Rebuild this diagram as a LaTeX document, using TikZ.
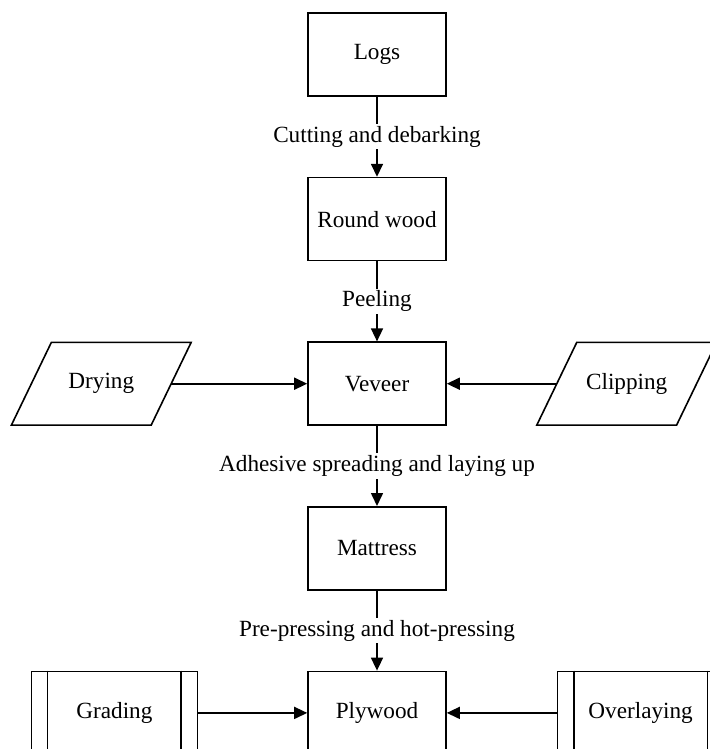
\documentclass[tikz,border=0pt]{standalone}
\usepackage{fontspec}
\setmainfont{Liberation Serif}
\usetikzlibrary{positioning, arrows.meta}
\tikzstyle{procbox} = [rectangle, draw=black, line width=0.8pt, minimum width=69pt, minimum height=41.5pt, text centered]
\tikzstyle{iobox} = [rectangle, minimum width=69.5pt, minimum height=41pt, text centered]
\tikzstyle{subbox} = [rectangle, draw=black, line width=0.8pt, minimum width=83pt, minimum height=41.5pt, text centered]
\tikzstyle{arrow} = [line width=0.8pt, -{Triangle[length=6.5pt,width=6pt]}, draw=black]
\tikzstyle{lbl} = [fill=white, inner sep=1pt]

\begin{document}
\begin{tikzpicture}[node distance=40pt, font=\fontsize{11.6}{14}\selectfont]
        \useasboundingbox (0,0) rectangle (355pt,-374.5pt);
        \clip (0,0) rectangle (355pt,-374.5pt);

        \node (logs) [procbox] at (188.5pt,-27.25pt) {Logs};
        \node (round) [procbox, below=of logs] {Round wood};
        \node (veneer) [procbox, below=of round] {Veveer};
        \node (mattress) [procbox, below=of veneer] {Mattress};
        \node (plywood) [procbox, below=of mattress] {Plywood};
        \node (drying) [iobox, left=68pt of veneer] {Drying};
        \node (clipping) [iobox, right=55pt of veneer] {Clipping};
        \node (grading) [subbox, left=54.5pt of plywood] {Grading};
        \node (overlay) [subbox, right=55pt of plywood] {Overlaying};

        % parallelograms
        \foreach \n in {drying, clipping}
            \draw[line width=0.8pt] ([xshift=10pt]\n.north west) -- ([xshift=10pt]\n.north east) -- ([xshift=-10pt]\n.south east) -- ([xshift=-10pt]\n.south west) -- cycle;
        % side bars
        \foreach \n in {grading, overlay} {
            \draw[line width=0.8pt] ([xshift=8.5pt]\n.north west) -- ([xshift=8.5pt]\n.south west);
            \draw[line width=0.8pt] ([xshift=-8.5pt]\n.north east) -- ([xshift=-8.5pt]\n.south east);
        }

        \draw [arrow] (logs) -- node[lbl] {Cutting and debarking} (round);
        \draw [arrow] (round) -- node[lbl] {Peeling} (veneer);
        \draw [arrow] (veneer) -- node[lbl] {Adhesive spreading and laying up} (mattress);
        \draw [arrow] (mattress) -- node[lbl] {Pre-pressing and hot-pressing} (plywood);
        \draw [arrow] (drying) -- (veneer);
        \draw [arrow] (clipping) -- (veneer);
        \draw [arrow] (grading) -- (plywood);
        \draw [arrow] (overlay) -- (plywood);

\end{tikzpicture}
\end{document}
